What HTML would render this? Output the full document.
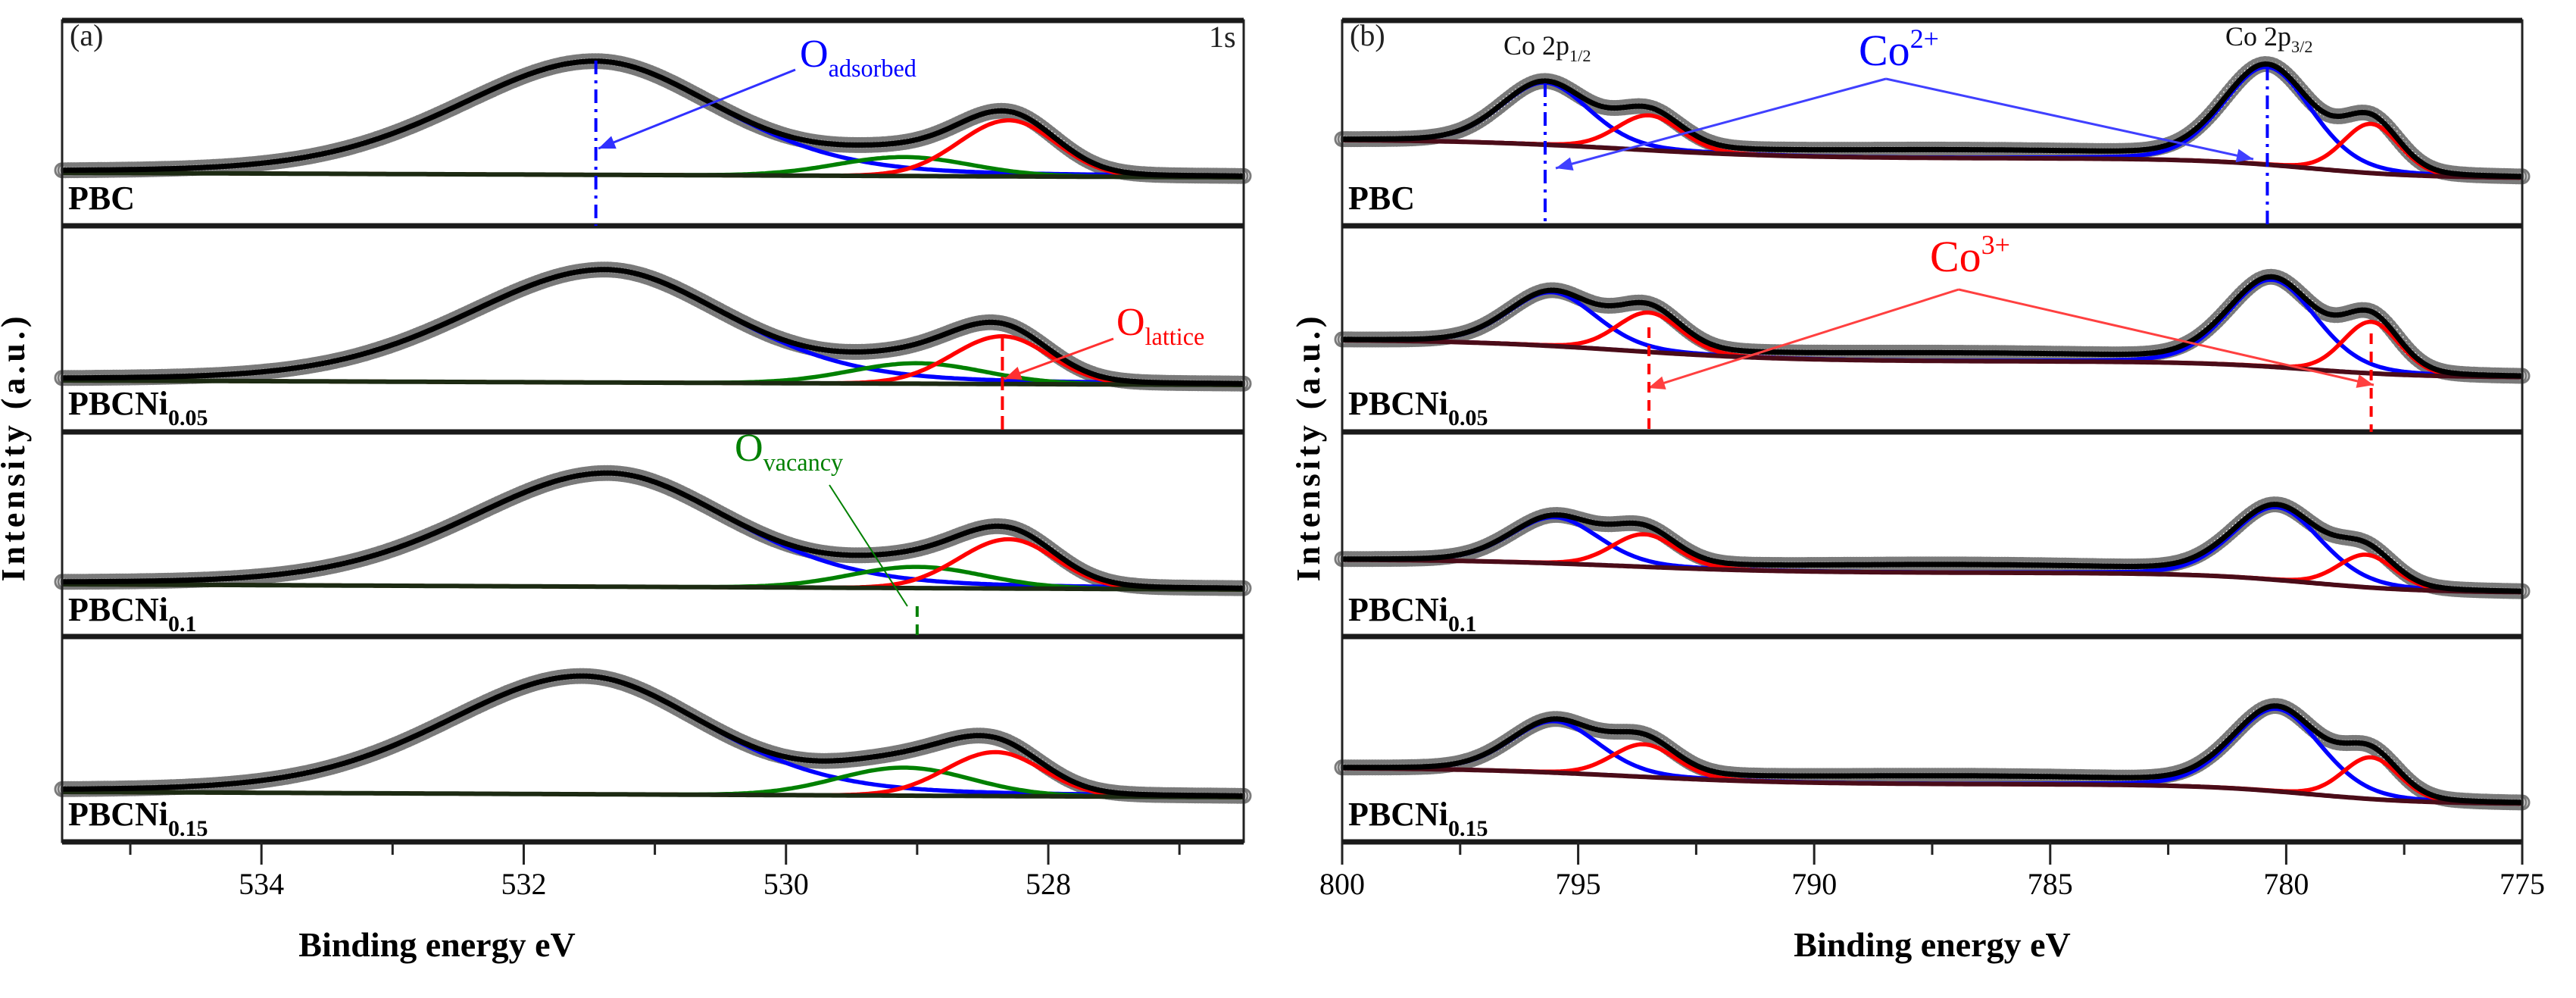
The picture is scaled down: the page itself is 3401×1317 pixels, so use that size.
<!DOCTYPE html>
<html><head><meta charset="utf-8"><style>
html,body{margin:0;padding:0;background:#fff;}
svg{display:block;font-family:"Liberation Serif",serif;}
</style></head><body>
<svg id="chart" width="3401" height="1317" viewBox="0 0 3401 1317" xmlns="http://www.w3.org/2000/svg">
<g id="layer"></g>
</svg>
<script>
// ---- data ----
const sampleNames = ["PBC","PBCNi","PBCNi","PBCNi"];
const sampleSubs = ["","0.05","0.1","0.15"];
// O 1s panel (a)
const oBaseLeft = [39,36,39,35];
const oBaseRight = [33,30,32,28];
const oAdsCenter = [531.45,531.38,531.36,531.55];
const oAdsAmp = [150,149,150,156];
const oLatCenter = [528.3,528.35,528.3,528.4];
const oLatAmp = [74,63,65,58];
const oVacCenter = [529.1,529.0,529.0,529.1];
const oVacAmp = [25,27,28,37];
const oTicks = [534,532,530,528];
const oMinorTicks = [535,533,531,529,527];
// Co 2p panel (b)
const coBgLeft = [83,90,72,67];
const coBgMid = [58,61,54,45];
const coBgRight = [32,40,28,19];
const co2pHalfCenter = [795.7,795.55,795.5,795.5];
const co2pHalfAmp = [82,71,61,68];
const co3pHalfCenter = [793.5,793.5,793.6,793.6];
const co3pHalfAmp = [46,52,43,43];
const co2p32Center = [780.4,780.3,780.2,780.2];
const co2p32Amp = [129,115,96,109];
const co3p32Center = [778.2,778.2,778.3,778.2];
const co3p32Amp = [65,68,43,55];
const coSatAmp = [10,10,10,10];
const coTicks = [800,795,790,785,780,775];
const coMinorTicks = [797.5,792.5,787.5,782.5,777.5];

// ---- layout ----
const NS="http://www.w3.org/2000/svg";
const layer=document.getElementById('layer');
const panelTops=[27,298,570,840], panelBottom=1111, PH=271;
const A={x0:82,x1:1642,e0:535.52,e1:526.51};
const B={x0:1772,x1:3330,e0:800,e1:775};
function sx(ax,e){return ax.x0+(ax.e0-e)/(ax.e0-ax.e1)*(ax.x1-ax.x0);}
function sy(i,I){return panelTops[i]+240-I;}
function el(tag,attrs,parent){const n=document.createElementNS(NS,tag);for(const k in attrs)n.setAttribute(k,attrs[k]);(parent||layer).appendChild(n);return n;}
function pv(e,c,A0,hL,hR,eta){const h=e>c?hL:hR;const d=(e-c)/h;return A0*((1-eta)*Math.exp(-Math.LN2*d*d)+eta/(1+d*d));}
function step(e,c,w){return 1/(1+Math.exp(-(e-c)/w));}
function pathFrom(ax,i,f){let d="";const n=400;for(let k=0;k<=n;k++){const e=ax.e0+(ax.e1-ax.e0)*k/n;d+=(k?"L":"M")+sx(ax,e).toFixed(1)+","+sy(i,f(e)).toFixed(1);}return d;}

function drawPanel(ax,i,bg,comps,extra,name){
  const env=e=>{let s=bg(e);comps.forEach(c=>s+=c.f(e));extra.forEach(f=>s+=f(e));return s;};
  const g=el('g',{});
  
  
  const pts=el('g',{fill:'none',stroke:'#7a7a7a','stroke-width':3},g);
  
  
  const n=Math.round((ax.x1-ax.x0)/4);
  for(let k=0;k<=n;k++){const e=ax.e0+(ax.e1-ax.e0)*k/n;
    el('circle',{cx:sx(ax,e).toFixed(1),cy:sy(i,env(e)).toFixed(1),r:9},pts);}
  comps.forEach(c=>{const p=el('path',{d:pathFrom(ax,i,e=>bg(e)+c.f(e)),fill:'none',stroke:c.col,'stroke-width':5.5},g);
    
    });
  const b=el('path',{d:pathFrom(ax,i,bg),fill:'none',stroke:ax===A?'#1c2a12':'#4a0c18','stroke-width':6},g);
  
  
  const ep=el('path',{d:pathFrom(ax,i,env),fill:'none',stroke:'#000','stroke-width':7},g);
  
  
}

for(let i=0;i<4;i++){
  const bgA=e=>oBaseRight[i]+(oBaseLeft[i]-oBaseRight[i])*(e-A.e1)/(A.e0-A.e1);
  drawPanel(A,i,bgA,[
    {name:'o-adsorbed-peak',col:'#0000ff',f:e=>pv(e,oAdsCenter[i],oAdsAmp[i],1.25,1.1,0.25)},
    {name:'o-vacancy-peak',col:'#008000',f:e=>pv(e,oVacCenter[i],oVacAmp[i],0.6,0.6,0)},
    {name:'o-lattice-peak',col:'#ff0000',f:e=>pv(e,oLatCenter[i],oLatAmp[i],0.45,0.42,0)}
  ],[],'o1s');
  const bgB=e=>coBgRight[i]+(coBgMid[i]-coBgRight[i])*step(e,779.5,1.2)+(coBgLeft[i]-coBgMid[i])*step(e,794,1.8);
  drawPanel(B,i,bgB,[
    {name:'co2-2p12-peak',col:'#0000ff',f:e=>pv(e,co2pHalfCenter[i],co2pHalfAmp[i],1.1,1.1,0.2)},
    {name:'co3-2p12-peak',col:'#ff0000',f:e=>pv(e,co3pHalfCenter[i],co3pHalfAmp[i],0.8,0.8,0.1)},
    {name:'co2-2p32-peak',col:'#0000ff',f:e=>pv(e,co2p32Center[i],co2p32Amp[i],1.1,1.1,0.2)},
    {name:'co3-2p32-peak',col:'#ff0000',f:e=>pv(e,co3p32Center[i],co3p32Amp[i],0.7,0.7,0.1)}
  ],[e=>pv(e,787,coSatAmp[i],5,5,0)],'co2p');
}

[A,B].forEach((ax,ai)=>{
  const fr=el('rect',{x:ax.x0,y:27,width:ax.x1-ax.x0,height:panelBottom-27,fill:'none',stroke:'#222','stroke-width':3});
  
  
  for(let i=0;i<=4;i++){const y=i<4?panelTops[i]:panelBottom;
    const ln=el('line',{x1:ax.x0,x2:ax.x1,y1:y,y2:y,stroke:'#1a1a1a','stroke-width':7});
    
    }
  for(let i=0;i<4;i++){
    const t=el('text',{x:ax.x0+8,y:panelTops[i]+PH-22,'font-size':44,'font-weight':'bold'});
    
    
    t.textContent=sampleNames[i];
    if(sampleSubs[i]){const s=el('tspan',{'font-size':30,dy:14},t);s.textContent=sampleSubs[i];}
  }
  const ticks=ai?coTicks:oTicks, minors=ai?coMinorTicks:oMinorTicks;
  ticks.forEach(v=>{const x=sx(ax,v);
    const tk=el('line',{x1:x,x2:x,y1:panelBottom,y2:panelBottom+30,stroke:'#222','stroke-width':3});
    
    
    const tl=el('text',{x:x,y:1180,'font-size':40,'text-anchor':'middle'});
    
    
    tl.textContent=v;});
  minors.forEach(v=>{const x=sx(ax,v);
    const tk=el('line',{x1:x,x2:x,y1:panelBottom,y2:panelBottom+17,stroke:'#222','stroke-width':3});
    
    });
  const xt=el('text',{x:(ax.x0+ax.x1)/2+(ai?0:-285),y:1262,'font-size':46,'font-weight':'bold','text-anchor':'middle'});
  
  
  xt.textContent='Binding energy eV';
  const yx=ai?1742:32;
  const yt=el('text',{x:yx,y:590,'font-size':44,'font-weight':'bold','text-anchor':'middle','letter-spacing':5,transform:'rotate(-90 '+yx+' 590)'});
  
  
  yt.textContent='Intensity (a.u.)';
});
function txt(x,y,size,col,main,sub,sup,name,bold){
  const t=el('text',{x:x,y:y,'font-size':size,fill:col,'font-weight':bold?'bold':'normal'});
  
  
  t.textContent=main;
  if(sub){const s=el('tspan',{'font-size':size*0.62,dy:size*0.25},t);s.textContent=sub;}
  if(sup){const s=el('tspan',{'font-size':size*0.62,dy:-size*0.4},t);s.textContent=sup;}
  return t;
}
function line(x1,y1,x2,y2,col,w,dash,name){const l=el('line',{x1:x1,y1:y1,x2:x2,y2:y2,stroke:col,'stroke-width':w});if(dash)l.setAttribute('stroke-dasharray',dash);
  
  return l;}
function arrow(x1,y1,x2,y2,col,name){line(x1,y1,x2,y2,col,3,null,name);
  const a=Math.atan2(y2-y1,x2-x1),L=22,W=9;
  const p=[[x2,y2],[x2-L*Math.cos(a)+W*Math.sin(a),y2-L*Math.sin(a)-W*Math.cos(a)],[x2-L*Math.cos(a)-W*Math.sin(a),y2-L*Math.sin(a)+W*Math.cos(a)]];
  const h=el('polygon',{points:p.map(q=>q.join(',')).join(' '),fill:col});
  
  }

txt(92,60,40,'#222','(a)','','','panel-a-label');
txt(1596,62,40,'#222','1s','','','orbital-label');
txt(1782,60,40,'#222','(b)','','','panel-b-label');
txt(1056,88,52,'#0000ff','O','adsorbed','','o-adsorbed-label');
arrow(1050,92,790,196,'#3030ff','o-adsorbed-arrow');
line(sx(A,oAdsCenter[0]),sy(0,oAdsAmp[0]+oBaseLeft[0]-2),sx(A,oAdsCenter[0]),298,'#0000ff',4,'18,8,4,8','o-adsorbed-marker');
txt(1474,442,52,'#ff0000','O','lattice','','o-lattice-label');
arrow(1470,447,1326,500,'#ff3030','o-lattice-arrow');
line(sx(A,oLatCenter[1]),445,sx(A,oLatCenter[1]),570,'#ff0000',4,'18,8','o-lattice-marker');
txt(970,608,52,'#008000','O','vacancy','','o-vacancy-label');
line(1095,640,1198,800,'#008000',2,null,'o-vacancy-leader');
line(sx(A,oVacCenter[2]),800,sx(A,oVacCenter[2]),840,'#008000',4,'14,10','o-vacancy-marker');
txt(1985,72,36,'#111','Co 2p','1/2','','co-2p12-label');
txt(2938,60,36,'#111','Co 2p','3/2','','co-2p32-label');
txt(2454,86,58,'#0000ff','Co','','2+','co2-label');
arrow(2490,104,2054,222,'#4040ff','co2-arrow-left');
arrow(2490,104,2975,210,'#4040ff','co2-arrow-right');
line(sx(B,co2pHalfCenter[0]),110,sx(B,co2pHalfCenter[0]),298,'#0000ff',4,'18,8,4,8','co2-2p12-marker');
line(sx(B,co2p32Center[0]),88,sx(B,co2p32Center[0]),298,'#0000ff',4,'18,8,4,8','co2-2p32-marker');
txt(2548,358,58,'#ff0000','Co','','3+','co3-label');
arrow(2586,382,2176,512,'#ff4040','co3-arrow-left');
arrow(2586,382,3134,508,'#ff4040','co3-arrow-right');
line(sx(B,co3pHalfCenter[1]),432,sx(B,co3pHalfCenter[1]),570,'#ff0000',4,'14,10','co3-2p12-marker');
line(sx(B,co3p32Center[1]),440,sx(B,co3p32Center[1]),570,'#ff0000',4,'14,10','co3-2p32-marker');
</script>
</body></html>
